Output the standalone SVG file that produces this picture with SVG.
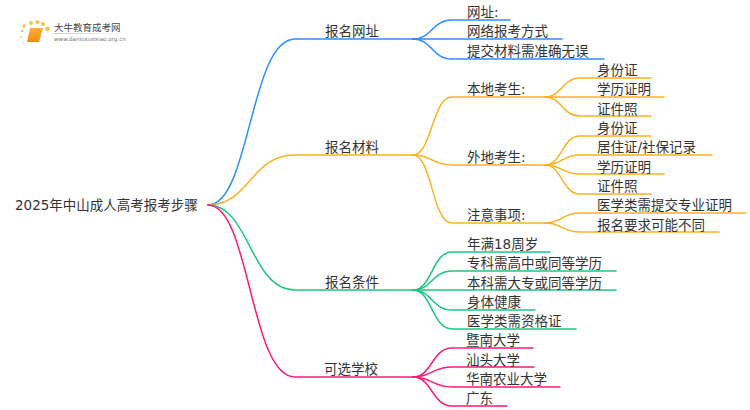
<svg xmlns="http://www.w3.org/2000/svg" width="750" height="410" viewBox="0 0 750 410">
<style>
text{font-family:"DejaVu Sans","Noto Sans CJK SC",sans-serif;font-size:13.5px;fill:#333}
#connectors path{fill:none;stroke-width:1.5;stroke-linecap:round}
.b{stroke:#2b8fff}.o{stroke:#fbb124}.g{stroke:#1cc67f}.p{stroke:#fb1a78}
</style>
<rect width="750" height="410" fill="#fff"/>
<g id="logo">
<defs><linearGradient id="bk" x1="0" y1="0" x2="0" y2="1"><stop offset="0" stop-color="#fbb03b"/><stop offset="1" stop-color="#f08a12"/></linearGradient><linearGradient id="ln" x1="0" y1="0" x2="1" y2="0"><stop offset="0" stop-color="#ccc"/><stop offset="1" stop-color="#fff"/></linearGradient></defs>
<g fill="#fbc24a"><circle cx="24" cy="26" r="1.800"/><circle cx="31" cy="23" r="2"/><circle cx="37.500" cy="22" r="2"/><circle cx="43" cy="24" r="2"/><circle cx="47.500" cy="29" r="2.300"/><circle cx="22.300" cy="31" r="1.300"/><circle cx="21" cy="37" r="1.100" opacity=".7"/><circle cx="23.500" cy="42.500" r="1" opacity=".5"/></g>
<polygon points="30,28 43,28 39,42 27,42" fill="url(#bk)"/>
<rect x="54" y="33" width="80" height="1" fill="url(#ln)"/>
<text x="54" y="31" style="font-size:9.500px;fill:#444">大牛教育成考网</text>
<text x="54" y="41" style="font-size:5.600px;fill:#777">www.daniuxuexiao.org.cn</text>
</g>
<g id="connectors">
<path class="b" d="M208 205C250 205 250 39 295 39H413"/>
<path class="o" d="M208 205C250 205 250 155 295 155H413"/>
<path class="g" d="M208 205C250 205 250 290 295 290H413"/>
<path class="p" d="M208 205C250 205 250 377 295 377H413"/>
<path class="b" d="M413 39C432 39 432 20 452 20H510"/>
<path class="b" d="M413 39H562"/>
<path class="b" d="M413 39C432 39 432 59 452 59H604"/>
<path class="o" d="M413 155C432 155 432 97 452 97H545"/>
<path class="o" d="M413 155C432 155 432 165 452 165H545"/>
<path class="o" d="M413 155C432 155 432 223 452 223H545"/>
<path class="o" d="M545 97C562 97 562 78 580 78H651"/>
<path class="o" d="M545 97H664"/>
<path class="o" d="M545 97C562 97 562 116 580 116H651"/>
<path class="o" d="M545 165C562 165 562 136 580 136H651"/>
<path class="o" d="M545 165C562 165 562 155 580 155H712"/>
<path class="o" d="M545 165C562 165 562 174 580 174H664"/>
<path class="o" d="M545 165C562 165 562 194 580 194H651"/>
<path class="o" d="M545 223C562 223 562 213 580 213H746"/>
<path class="o" d="M545 223C562 223 562 232 580 232H719"/>
<path class="g" d="M413 290C432 290 432 252 452 252H550"/>
<path class="g" d="M413 290C432 290 432 271 452 271H616"/>
<path class="g" d="M413 290H616"/>
<path class="g" d="M413 290C432 290 432 310 452 310H535"/>
<path class="g" d="M413 290C432 290 432 329 452 329H576"/>
<path class="p" d="M413 377C432 377 432 348 452 348H533"/>
<path class="p" d="M413 377C432 377 432 367 452 367H534"/>
<path class="p" d="M413 377C432 377 432 387 452 387H560"/>
<path class="p" d="M413 377C432 377 432 406 452 406H507"/>
</g>
<g id="root"><text x="15" y="210">2025年中山成人高考报考步骤</text></g>
<g id="n1"><text x="325" y="36">报名网址</text></g>
<g id="n1-1"><text x="467" y="17">网址:</text></g>
<g id="n1-2"><text x="467" y="36">网络报考方式</text></g>
<g id="n1-3"><text x="467" y="56">提交材料需准确无误</text></g>
<g id="n2"><text x="325" y="152">报名材料</text></g>
<g id="n2-1"><text x="467" y="94">本地考生:</text></g>
<g id="n2-1-1"><text x="597" y="75">身份证</text></g>
<g id="n2-1-2"><text x="597" y="94">学历证明</text></g>
<g id="n2-1-3"><text x="597" y="114">证件照</text></g>
<g id="n2-2"><text x="467" y="162">外地考生:</text></g>
<g id="n2-2-1"><text x="597" y="133">身份证</text></g>
<g id="n2-2-2"><text x="597" y="152">居住证/社保记录</text></g>
<g id="n2-2-3"><text x="597" y="172">学历证明</text></g>
<g id="n2-2-4"><text x="597" y="191">证件照</text></g>
<g id="n2-3"><text x="467" y="220">注意事项:</text></g>
<g id="n2-3-1"><text x="597" y="210">医学类需提交专业证明</text></g>
<g id="n2-3-2"><text x="597" y="230">报名要求可能不同</text></g>
<g id="n3"><text x="325" y="287">报名条件</text></g>
<g id="n3-1"><text x="467" y="249">年满18周岁</text></g>
<g id="n3-2"><text x="467" y="268">专科需高中或同等学历</text></g>
<g id="n3-3"><text x="467" y="288">本科需大专或同等学历</text></g>
<g id="n3-4"><text x="467" y="307">身体健康</text></g>
<g id="n3-5"><text x="467" y="326">医学类需资格证</text></g>
<g id="n4"><text x="324" y="374">可选学校</text></g>
<g id="n4-1"><text x="466" y="345">暨南大学</text></g>
<g id="n4-2"><text x="466" y="365">汕头大学</text></g>
<g id="n4-3"><text x="466" y="384">华南农业大学</text></g>
<g id="n4-4"><text x="466" y="403">广东</text></g>
</svg>
